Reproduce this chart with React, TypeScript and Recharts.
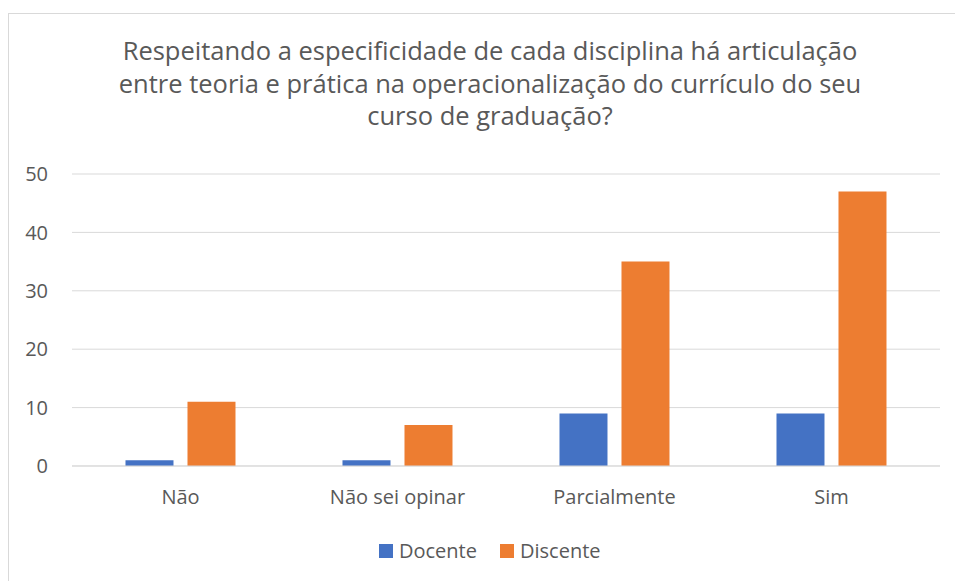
import React from "react";
import { BarChart, Bar, XAxis, YAxis, CartesianGrid } from "recharts";

const categories = ["Não", "Não sei opinar", "Parcialmente", "Sim"];
const docente = [1, 1, 9, 9];
const discente = [11, 7, 35, 47];
const yTicks = [0, 10, 20, 30, 40, 50];
const seriesNames = ["Docente", "Discente"];
const titleLines = [
  "Respeitando a especificidade de cada disciplina há articulação",
  "entre teoria e prática na operacionalização do currículo do seu",
  "curso de graduação?",
];

const data = categories.map((c, i) => ({ name: c, Docente: docente[i], Discente: discente[i] }));

const FONT = "'Open Sans', sans-serif";
const TEXT = "#595959";
const BLUE = "#4472C4";
const ORANGE = "#ED7D31";
const COLORS = [BLUE, ORANGE];

export default function App() {
  return (
    <div
      style={{
        position: "absolute",
        left: 8,
        top: 13,
        width: 946,
        height: 567,
        borderTop: "1px solid #d9d9d9",
        borderLeft: "1px solid #d9d9d9",
        overflow: "hidden",
        background: "#fff",
      }}
    >
      <div
        style={{
          position: "absolute",
          top: 20,
          left: 0,
          width: 962,
          textAlign: "center",
          fontFamily: FONT,
          fontSize: 25.5,
          lineHeight: "32.6px",
          color: TEXT,
        }}
      >
        {titleLines.map((l, i) => (
          <div key={i}>{l}</div>
        ))}
      </div>
      <BarChart
        width={946}
        height={567}
        data={data}
        margin={{ top: 160, right: 15, left: 13, bottom: 85 }}
        barCategoryGap="24.65%"
        barGap={14}
      >
        <CartesianGrid vertical={false} stroke="#d9d9d9" strokeWidth={1} />
        <XAxis
          dataKey="name"
          height={30}
          tickLine={false}
          axisLine={{ stroke: "#d9d9d9" }}
          tick={{ fill: TEXT, fontSize: 20, fontFamily: FONT }}
          tickMargin={18}
        />
        <YAxis
          width={50}
          domain={[0, 50]}
          ticks={yTicks}
          tickLine={false}
          axisLine={false}
          tick={{ fill: TEXT, fontSize: 20, fontFamily: FONT }}
          tickMargin={18}
        />
        <Bar dataKey="Docente" fill={BLUE} isAnimationActive={false} />
        <Bar dataKey="Discente" fill={ORANGE} isAnimationActive={false} />
      </BarChart>
      <div
        style={{
          position: "absolute",
          top: 524,
          left: 370,
          display: "flex",
          alignItems: "center",
          fontFamily: FONT,
          fontSize: 20,
          lineHeight: "26px",
          color: TEXT,
        }}
      >
        {seriesNames.map((n, i) => (
          <React.Fragment key={n}>
            <span style={{ width: 14, height: 14, background: COLORS[i], display: "inline-block", marginRight: 6 }} />
            <span style={{ marginRight: i === 0 ? 23 : 0 }}>{n}</span>
          </React.Fragment>
        ))}
      </div>
    </div>
  );
}
